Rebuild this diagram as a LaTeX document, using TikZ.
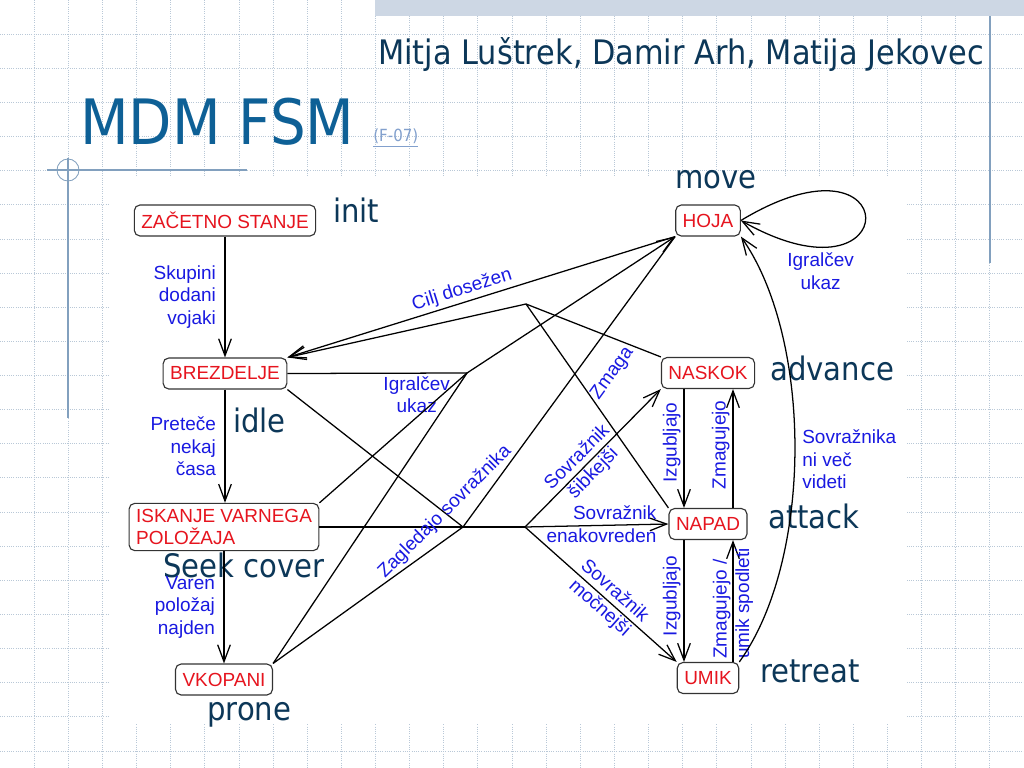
\documentclass[tikz,border=0pt]{standalone}
\usepackage{fontspec}
\setmainfont{Liberation Sans}
\newfontfamily\tahoma[FakeStretch=0.9]{DejaVu Sans}
\usepackage{tikz}
\usetikzlibrary{arrows.meta,calc,positioning}
\definecolor{statered}{RGB}{230,20,30}
\definecolor{lblblue}{RGB}{25,25,225}
\definecolor{navy}{RGB}{12,55,88}
\definecolor{titleblue}{RGB}{14,96,150}
\definecolor{gridgray}{RGB}{185,200,215}
\definecolor{bandblue}{RGB}{205,215,228}
\definecolor{decoblue}{RGB}{130,160,190}
\definecolor{linkblue}{RGB}{130,160,205}
\tikzset{%
	fsmstate/.style = {draw=black!80, line width=0.8pt, rounded corners=4pt, fill=white, text=statered, font=\fontsize{13.5}{15.5}\selectfont, inner xsep=1.75mm, inner ysep=1.5mm, minimum height=7.75mm, align=left},
	trlabel/.style  = {text=lblblue, font=\fontsize{13.5}{16}\selectfont, inner sep=2pt},
	annot/.style    = {text=navy, font=\tahoma\fontsize{23}{26}\selectfont, inner sep=0pt, anchor=base west},
	link/.style     = {line width=0.9pt},
	arrow/.style    = {line width=0.9pt, -{Straight Barb[length=12pt,width=9pt]}},
	gridline/.style = {gridgray, densely dotted, line width=0.6pt},
}

\begin{document}
\begin{tikzpicture}[x=0.025cm,y=-0.025cm]
	\useasboundingbox (0,0) rectangle (1024,768);
	\fill[white] (0,0) rectangle (1024,768);
	% slide background
	\foreach \k in {1,...,29} \draw[gridline] (\k*34.133,0) -- (\k*34.133,768);
	\foreach \k in {1,...,22} \draw[gridline] (0,\k*34.133) -- (1024,\k*34.133);
	\fill[bandblue] (375,0) rectangle (1024,16);
	\draw[decoblue, line width=1pt] (990,16) -- (990,263);
	\fill[white] (110,176) rectangle (907,724);
	\draw[decoblue, line width=0.8pt] (47,170) -- (247,170);
	\draw[decoblue, line width=0.8pt] (68,158) -- (68,418);
	\draw[decoblue, line width=0.6pt] (68,170) circle[radius=2.75mm];
	
	\node[anchor=base west, inner sep=0pt, text=navy, font=\tahoma\fontsize{24}{28}\selectfont] (authors) at (378,65) {Mitja Luštrek, Damir Arh, Matija Jekovec};
	\node[anchor=base west, inner sep=0pt, text=titleblue, font=\tahoma\fontsize{44.5}{50}\selectfont] (title) at (80,145) {MDM FSM};
	\node[anchor=base west, inner sep=0pt, text=linkblue, font=\tahoma\fontsize{11.9}{14}\selectfont] (fref) at (373,142) {\underline{(F-07)}};
	
	% states
	\node[fsmstate] (zac) at (225,220.5) {ZAČETNO STANJE};
	\node[fsmstate] (brez) at (225,373.5) {BREZDELJE};
	\node[fsmstate] (isk) at (224,527) {ISKANJE VARNEGA\\POLOŽAJA};
	\node[fsmstate] (vko) at (224,679.5) {VKOPANI};
	\node[fsmstate] (hoja) at (708,220.5) {HOJA};
	\node[fsmstate] (naskok) at (708,373) {NASKOK};
	\node[fsmstate] (napad) at (708,524) {NAPAD};
	\node[fsmstate] (umik) at (708,678) {UMIK};
	
	\coordinate (pgoal) at (526,304);
	\coordinate (pcmd) at (467,373);
	\coordinate (psee) at (463,527);
	\coordinate (pfork) at (525,527);
	
	% english names
	\node[annot] (ainit) at (333,222) {init};
	\node[annot] (aidle) at (233,432) {idle};
	\node[annot] (aseek) at (163,577) {Seek cover};
	\node[annot] (aprone) at (207,720) {prone};
	\node[annot] (amove) at (675,188) {move};
	\node[annot] (aadv) at (770,380) {advance};
	\node[annot] (aatt) at (768,528) {attack};
	\node[annot] (aret) at (760,682) {retreat};
	
	% left column
	\draw[arrow] (zac) -- node[trlabel, left=4pt, align=right] {Skupini\\dodani\\vojaki} (zac |- brez.north);
	\draw[arrow] (brez) -- node[trlabel, left=4pt, align=right] {Preteče\\nekaj\\časa} (brez |- isk.north);
	\draw[arrow] (isk) -- node[trlabel, left=4pt, align=right] {Varen\\položaj\\najden} (isk |- vko.north);
	
	% goal reached
	\draw[arrow] (hoja.south west) -- node[trlabel, sloped, above, pos=.54] {Cilj dosežen} (brez.north east);
	\draw[link] (naskok.north west) -- (pgoal);
	\draw[link] (napad.north west) -- (pgoal);
	\draw[arrow] (pgoal) -- (brez.north east);
	
	% player command
	\draw[link] (brez.east) -- node[trlabel, below, pos=.72, align=center] {Igralčev\\ukaz} (pcmd);
	\draw[link] (isk.north east) -- (pcmd);
	\draw[link] (vko.north east) -- (pcmd);
	\draw[arrow] (pcmd) -- (hoja.south west);
	
	% enemy spotted
	\draw[link] (brez.south east) -- (psee);
	\draw[link] (isk.east) -- (psee);
	\draw[link] (vko.north east) -- (psee);
	\draw[link] (hoja.south west) -- node[trlabel, sloped, below=13pt, pos=.41] {Zmaga} (psee);
	\draw[link] (psee) -- (pfork);
	\node[trlabel, rotate=45] (seelbl) at (445,512) {Zagledajo sovražnika};
	\draw[arrow] (pfork) -- node[trlabel, sloped, pos=.445, align=center] {Sovražnik\\šibkejši} (naskok.south west);
	\draw[arrow] (pfork) -- node[trlabel, left, pos=.94, align=right] {Sovražnik\\enakovreden} (napad.west);
	\draw[arrow] (pfork) -- node[trlabel, sloped, pos=.54, align=center] {Sovražnik\\močnejši} (umik.north west);
	
	% right column
	\draw[arrow] ([xshift=-6mm]naskok.south) -- node[trlabel, rotate=90, anchor=south, pos=.45] {Izgubljajo} ([xshift=-6mm]naskok.south |- napad.north);
	\draw[arrow] ([xshift=6.25mm]napad.north) -- node[trlabel, rotate=90, anchor=south, pos=.53] {Zmagujejo} ([xshift=6.25mm]napad.north |- naskok.south);
	\draw[arrow] ([xshift=-6mm]napad.south) -- node[trlabel, rotate=90, anchor=south, pos=.46] {Izgubljajo} ([xshift=-6mm]napad.south |- umik.north);
	\draw[arrow] ([xshift=6.25mm]umik.north) -- node[trlabel, rotate=90, pos=.48, align=left] {Zmagujejo /\\umik spodleti} ([xshift=6.25mm]umik.north |- napad.south);
	
	% back to move
	\draw[arrow] (umik.north east) .. controls (813,560) and (813,340) .. (hoja.south east) node[trlabel, right=3pt, pos=.48, align=left] {Sovražnika\\ni več\\videti};
	\draw[arrow] (hoja.east) .. controls (907,120) and (907,314) .. (hoja.east) node[trlabel, below=2pt, pos=.8, align=center] {Igralčev\\ukaz};
\end{tikzpicture}
\end{document}
